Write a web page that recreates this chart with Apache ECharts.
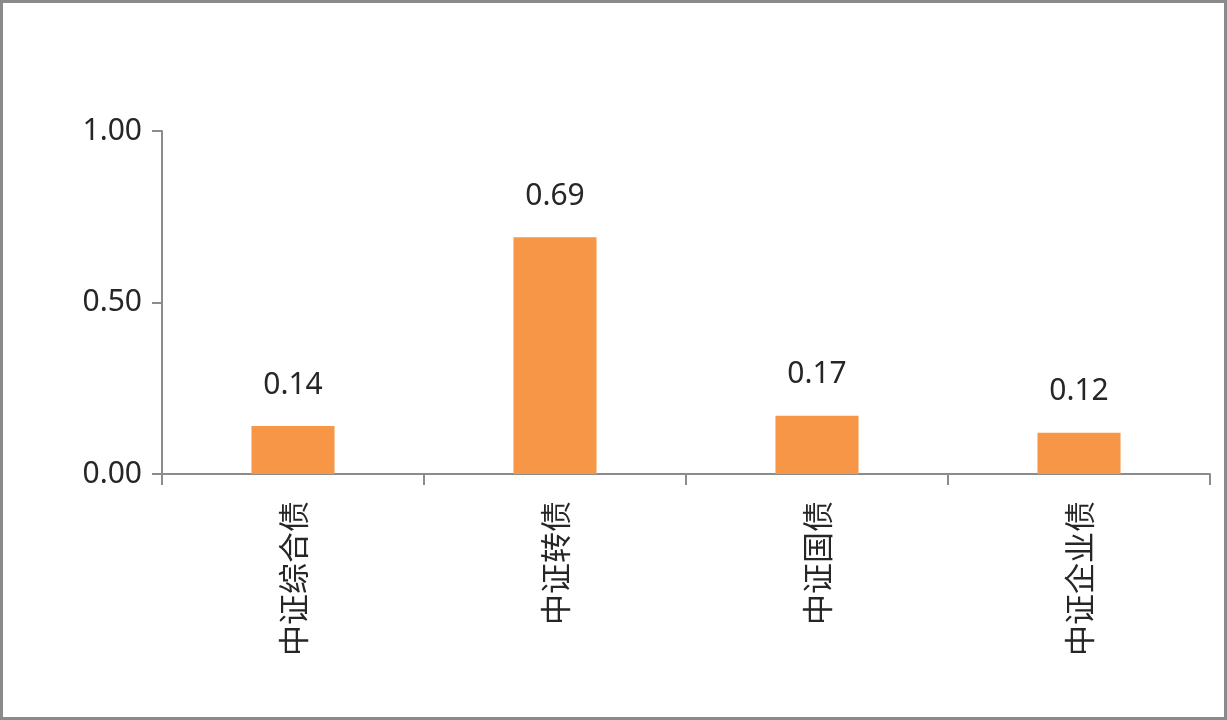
<!DOCTYPE html>
<html>
<head>
<meta charset="utf-8">
<script src="https://cdn.jsdelivr.net/npm/echarts@6/dist/echarts.min.js"></script>
<style>
  html, body { margin: 0; padding: 0; background: #fff; }
  #main { width: 1227px; height: 720px; }
</style>
</head>
<body>
<div id="main"></div>
<script>
// 数据
var categories = ['中证综合债', '中证转债', '中证国债', '中证企业债'];
var values = [0.14, 0.69, 0.17, 0.12];
var yTicks = [0, 0.5, 1];

var myChart = echarts.init(document.getElementById('main'));

var axisColor = '#8c8c8c';
var textColor = '#262626';

var option = {
    animation: false,
    backgroundColor: '#fff',
    graphic: [{
        type: 'rect',
        shape: { x: 1.5, y: 1.5, width: 1224, height: 717 },
        style: { fill: 'none', stroke: '#8a8a8a', lineWidth: 3 },
        silent: true
    }],
    grid: {
        left: 162,
        right: 17,
        top: 131,
        bottom: 246
    },
    xAxis: {
        type: 'category',
        data: categories,
        axisLine: { lineStyle: { color: axisColor, width: 2 } },
        axisTick: { show: true, length: 11, lineStyle: { color: axisColor, width: 2 } },
        axisLabel: {
            rotate: 90,
            margin: 27,
            fontSize: 31,
            color: textColor,
            fontFamily: 'Noto Sans CJK SC'
        }
    },
    yAxis: {
        type: 'value',
        min: yTicks[0],
        max: yTicks[yTicks.length - 1],
        interval: yTicks[1] - yTicks[0],
        splitLine: { show: false },
        axisLine: { show: true, lineStyle: { color: axisColor, width: 2 } },
        axisTick: { show: true, length: 10, lineStyle: { color: axisColor, width: 2 } },
        axisLabel: {
            margin: 20,
            fontSize: 30,
            color: textColor,
            fontFamily: 'Noto Sans',
            formatter: function (v) { return v.toFixed(2); }
        }
    },
    series: [{
        type: 'bar',
        data: values,
        barWidth: '31.7%',
        itemStyle: { color: '#f79646' },
        label: {
            show: true,
            position: 'top',
            distance: 26,
            fontSize: 30,
            color: textColor,
            fontFamily: 'Noto Sans',
            formatter: function (p) { return p.value.toFixed(2); }
        }
    }]
};

myChart.setOption(option);
</script>
</body>
</html>
